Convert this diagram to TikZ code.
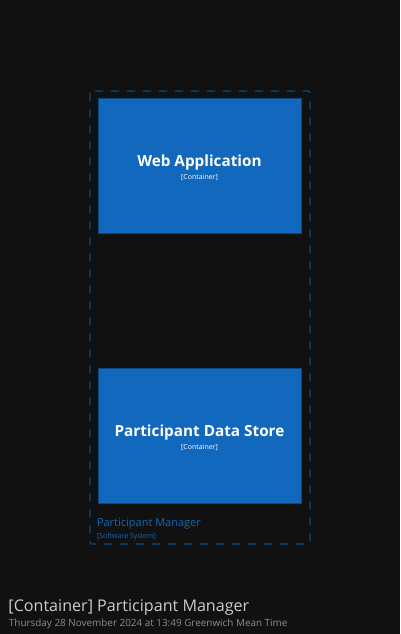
\documentclass[tikz,border=0pt]{standalone}
\usepackage{fontspec}
\setmainfont{Open Sans}
\usepackage{xcolor}
\usepackage{tikz}
\usetikzlibrary{positioning}
\definecolor{bgdark}{HTML}{111111}
\definecolor{containerblue}{HTML}{1168BD}
\definecolor{containeredge}{HTML}{0B4884}
\definecolor{titlegrey}{HTML}{CCCCCC}
\definecolor{dategrey}{HTML}{8C8C8C}
\begin{document}
\begin{tikzpicture}[x=1pt,y=-1pt]
                \pgfmathsetmacro{\W}{400}
                \pgfmathsetmacro{\H}{634}
                \tikzset{%
                    inner sep=0pt,%
                    outer sep=0pt,%
                     container/.style=
                     {draw=containeredge,fill=containerblue,line width=1pt,
                     minimum width=203pt,minimum height=135pt},%
                     boundary/.style=
                     {draw=containeredge,line width=1.2pt,dash pattern=on 8pt off 8pt,
                     rounded corners=2pt},%
                     contname/.style={text=white,font=\fontsize{15.3}{18}\selectfont\bfseries},%
                     conttype/.style={text=white,font=\fontsize{7}{8}\selectfont}%
                        }
            \fill[bgdark] (0,0) rectangle (\W,\H);
            \useasboundingbox (0,0) rectangle (\W,\H);
	        {
                \draw[boundary] (90,91) rectangle (310,544);
                \node[container] (webapp) at (199.5,165.5) {};
                \node[contname] (webappname) at (199.5,162.5) {Web Application};
                \node[conttype,below=4pt of webappname] {[Container]};
                \node[container] (store) at (199.5,435.5) {};
                \node[contname] (storename) at (199.5,432.5) {Participant Data Store};
                \node[conttype,below=4pt of storename] {[Container]};
                \node[anchor=base west,text=containerblue,
                font=\fontsize{11}{12}\selectfont] (sysname) at (97,526) {Participant Manager};
                \node[anchor=base west,text=containerblue,
                font=\fontsize{7}{8}\selectfont] (systype) at (97,538) {[Software System]};
                \node[anchor=base west,text=titlegrey,
                font=\fontsize{16.1}{19}\selectfont] (title) at (8.5,611) {[Container] Participant Manager};
                \node[anchor=base west,text=dategrey,
                font=\fontsize{9.9}{12}\selectfont] (date) at (9,626)
                {Thursday 28 November 2024 at 13:49 Greenwich Mean Time};
            }
            \end{tikzpicture}
\end{document}
